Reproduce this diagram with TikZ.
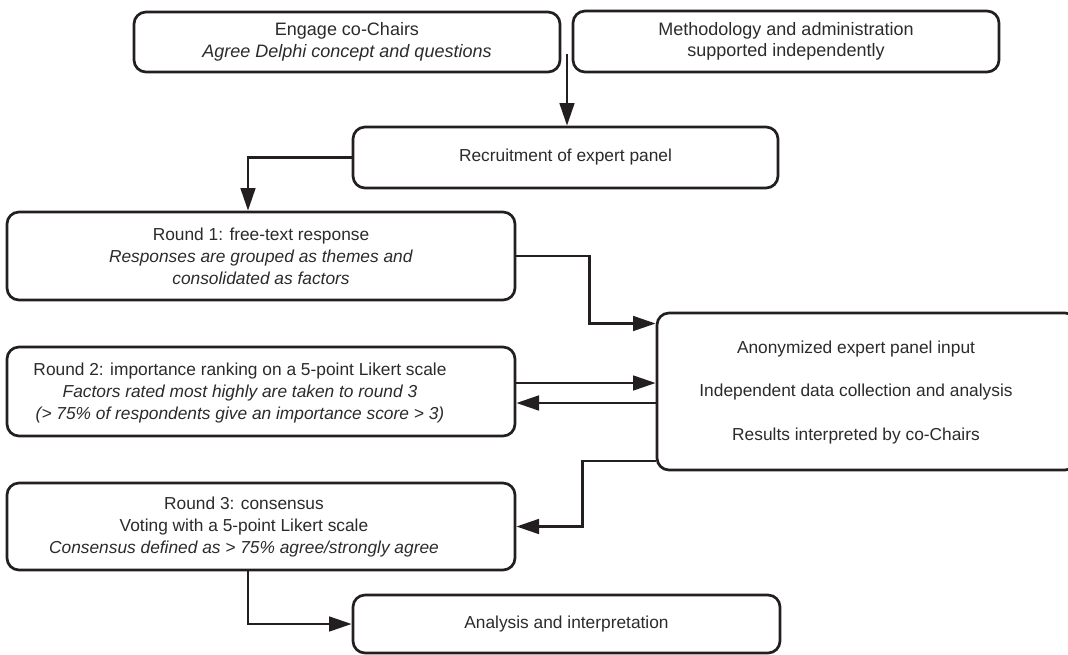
\documentclass[tikz,border=0pt]{standalone}
\usepackage{fontspec}
\setmainfont{Liberation Sans}
\usetikzlibrary{arrows.meta,calc}
\definecolor{lc}{RGB}{35,31,32}
\definecolor{tc}{RGB}{45,42,43}
\newcommand{\pxu}{0.75pt}
\begin{document}
\begin{tikzpicture}[x=0.75pt,y=-0.75pt,
  box/.style={draw=lc, line width=2pt, rounded corners=9pt, inner sep=0pt, align=center, text=tc,
    font=\fontsize{13}{16}\selectfont},
  txt/.style={inner sep=0pt, align=center, text=tc, font=\fontsize{13}{16.5}\selectfont},
  conn/.style={draw=lc, line width=2pt, -{Triangle[length=17pt,width=11pt]}}]
\useasboundingbox[fill=white] (0,0) rectangle (1068,654);

\node[box, minimum width=426*\pxu, minimum height=60*\pxu, font=\fontsize{13.5}{16}\selectfont] (A) at (347,42)
  {Engage co-Chairs\\\textit{Agree Delphi concept and questions}};
\node[box, minimum width=426*\pxu, minimum height=61*\pxu, font=\fontsize{13.5}{16}\selectfont] (B) at (786,41.5)
  {Methodology and administration\\supported independently};
\node[box, minimum width=425*\pxu, minimum height=61*\pxu] (rec) at (565.5,157.5)
  {Recruitment of expert panel};
\node[box, minimum width=508*\pxu, minimum height=88*\pxu, font=\fontsize{13}{16.5}\selectfont] (r1) at (261,256)
  {Round 1: free-text response\\\textit{Responses are grouped as themes and}\\\textit{consolidated as factors}};
\node[box, minimum width=508*\pxu, minimum height=89*\pxu] (r2) at (261,391.5) {};
\node[txt] (r2t) at (240,393)
  {Round 2: importance ranking on a 5-point Likert scale\\\textit{Factors rated most highly are taken to round 3}\\\textit{(> 75\% of respondents give an importance score > 3)}};
\node[box, minimum width=508*\pxu, minimum height=87*\pxu] (r3) at (261,526.5) {};
\node[txt] (r3t) at (244,527.5)
  {Round 3: consensus\\Voting with a 5-point Likert scale\\\textit{Consensus defined as > 75\% agree/strongly agree}};
\node[box, minimum width=420*\pxu, minimum height=157*\pxu] (anon) at (867,391.5) {};
\node[txt, font=\fontsize{13}{32.5}\selectfont] (anont) at (856,392.5)
  {Anonymized expert panel input\\Independent data collection and analysis\\Results interpreted by co-Chairs};
\node[box, minimum width=427*\pxu, minimum height=58*\pxu] (ana) at (566.5,624)
  {Analysis and interpretation};

\coordinate (join) at (567,54);
\draw[conn] (join) -- (join |- rec.north);
\draw[conn] (rec.west) -| ($(r1.north)+(-13,0)$);
\draw[conn] (r1.east) -- ++(73,0) |- ($(anon.west)+(0,-68)$);
\draw[conn] ($(r2.east)+(0,-8.5)$) -- ($(anon.west)+(0,-8.5)$);
\draw[conn] ($(anon.west)+(0,11.5)$) -- ($(r2.east)+(0,11.5)$);
\draw[conn] ($(anon.west)+(0,69.5)$) -- ++(-73,0) |- (r3.east);
\draw[conn] ($(r3.south)+(-13,0)$) |- (ana.west);
\end{tikzpicture}
\end{document}
